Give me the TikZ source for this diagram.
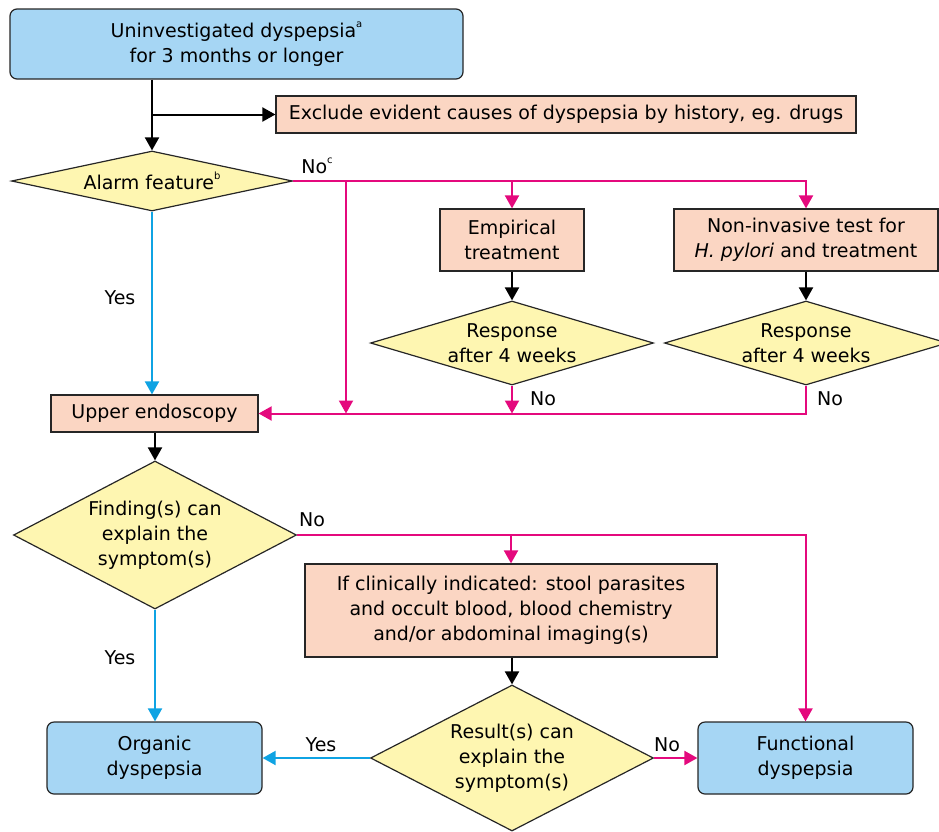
\documentclass[tikz,border=0pt]{standalone}
\usepackage{fontspec}
\setmainfont{DejaVu Sans}
\usetikzlibrary{shapes.geometric,arrows.meta}

\definecolor{termblue}{HTML}{A6D6F4}
\definecolor{procpeach}{HTML}{FBD6C3}
\definecolor{askyellow}{HTML}{FEF6B1}
\definecolor{nopink}{HTML}{E4097D}
\definecolor{yescyan}{HTML}{0FA3E3}

\newcommand{\fnmark}[1]{\raisebox{0.55em}{\fontsize{10}{10}\selectfont #1}}

\tikzset{
  base/.style={draw=black!85, line width=1.2pt, align=center, inner sep=0pt,
    font=\fontsize{19}{25}\selectfont},
  term/.style={base, rounded corners=7pt, fill=termblue},
  proc/.style={base, fill=procpeach},
  ask/.style={base, diamond, fill=askyellow},
  lbl/.style={font=\fontsize{19}{25}\selectfont},
  arr/.style={-{Triangle[width=14pt,length=13pt]}, line width=2pt},
  blkarr/.style={arr, color=black},
  noarr/.style={arr, color=nopink},
  yesarr/.style={arr, color=yescyan},
}

\begin{document}
\begin{tikzpicture}[x=1pt, y=-1pt]
  \useasboundingbox (0,0) rectangle (939,831);

  \node[term, minimum width=453, minimum height=70] (start) at (236.5,44)
    {Uninvestigated dyspepsia\fnmark{a}\\for 3 months or longer};
  \node[proc, minimum width=580, minimum height=37] (excl) at (566,114.5)
    {Exclude evident causes of dyspepsia by history, eg. drugs};
  \node[ask, shape aspect=4.68, minimum width=281, minimum height=60] (alarm) at (152,181)
    {Alarm feature\fnmark{b}};
  \node[proc, minimum width=144, minimum height=62] (emp) at (512,240)
    {Empirical\\treatment};
  \node[proc, minimum width=264, minimum height=62] (hp) at (806,240)
    {Non-invasive test for\\\textit{H. pylori} and treatment};
  \node[ask, shape aspect=3.37, minimum width=283, minimum height=84] (resp1) at (512,343)
    {Response\\after 4 weeks};
  \node[ask, shape aspect=3.37, minimum width=283, minimum height=84] (resp2) at (806,343)
    {Response\\after 4 weeks};
  \node[proc, minimum width=207, minimum height=37] (endo) at (154.5,413.5)
    {Upper endoscopy};
  \node[ask, shape aspect=1.91, minimum width=283, minimum height=148] (find) at (155,535)
    {Finding(s) can\\explain the\\symptom(s)};
  \node[proc, minimum width=412, minimum height=93] (clin) at (511,610.5)
    {If clinically indicated: stool parasites\\and occult blood, blood chemistry\\and/or abdominal imaging(s)};
  \node[ask, shape aspect=1.94, minimum width=283, minimum height=146] (res) at (512,758)
    {Result(s) can\\explain the\\symptom(s)};
  \node[term, minimum width=215, minimum height=72] (org) at (154.5,758)
    {Organic\\dyspepsia};
  \node[term, minimum width=215, minimum height=72] (func) at (805.5,758)
    {Functional\\dyspepsia};

  \coordinate (split) at (346,181);

  \draw[blkarr] (alarm.north |- start.south) -- (alarm.north);
  \draw[blkarr] (alarm.north |- excl.west) -- (excl.west);
  \draw[noarr] (alarm.east) -| (emp.north);
  \draw[noarr] (alarm.east) -| (hp.north);
  \draw[noarr] (split) -- (split |- endo.east);
  \draw[blkarr] (emp) -- (resp1);
  \draw[blkarr] (hp) -- (resp2);
  \draw[noarr] (resp1.south) -- (resp1.south |- endo.east);
  \draw[noarr] (resp2.south) |- (endo.east);
  \draw[yesarr] (alarm.south) -- (alarm.south |- endo.north);
  \draw[blkarr] (find.north |- endo.south) -- (find.north);
  \draw[noarr] (find.east) -| (clin.north);
  \draw[noarr] (find.east) -| (func.north);
  \draw[blkarr] (res.north |- clin.south) -- (res.north);
  \draw[yesarr] (find.south) -- (find.south |- org.north);
  \draw[yesarr] (res.west) -- (org.east);
  \draw[noarr] (res.east) -- (func.west);

  \node[lbl] (noalarm) at (317,166) {No\fnmark{c}};
  \node[lbl] (yesalarm) at (120,298) {Yes};
  \node[lbl] (noresp1) at (543,399) {No};
  \node[lbl] (noresp2) at (830,399) {No};
  \node[lbl] (nofind) at (312,520) {No};
  \node[lbl] (yesfind) at (120,658) {Yes};
  \node[lbl] (yesres) at (321,745) {Yes};
  \node[lbl] (nores) at (667,745) {No};
\end{tikzpicture}
\end{document}
